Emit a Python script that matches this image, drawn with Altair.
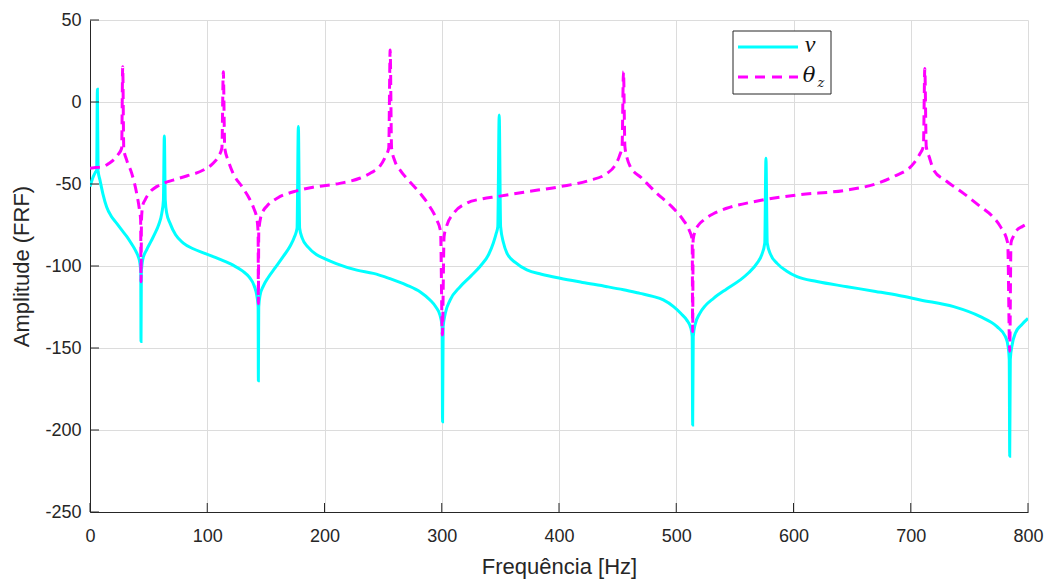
import altair as alt
import pandas as pd

# ---- data ----
v_freq = [0, 2.8, 4.5, 5.7, 6.3, 6.9, 8.5, 11, 14.2, 18, 22.8, 27, 31.3, 35, 38.4, 41, 42.5, 43.3, 43.5, 43.8, 45, 48.4, 52, 55.5, 58.5, 61.2, 62.6, 63.4, 64.2, 65.5, 68.3, 73, 79.6, 88, 96.7, 111, 122, 130, 136, 140, 142.5, 143.4, 143.6, 143.9, 145, 148, 152, 158, 165, 170.6, 174.5, 176.6, 177.7, 178.8, 181, 186, 193, 200, 210, 227.6, 241.7, 255, 270, 282, 290, 295, 298.5, 300.3, 300.7, 301.2, 303, 307, 315.7, 325, 333, 340, 344, 346.5, 347.8, 349, 350.2, 352.7, 355.5, 363, 372.6, 385, 401, 420, 441, 455, 469, 480, 489, 497.7, 504, 509, 512.5, 513.6, 514, 514.5, 516, 520, 525, 531.8, 543, 554.6, 562, 568.8, 573, 575.5, 576.5, 577.6, 580.5, 586, 594, 603, 620, 645.6, 670, 690, 708.2, 736.6, 759.4, 773.6, 780.7, 783, 784, 784.4, 784.9, 786.5, 789.2, 795, 800]
v_amp = [-51.6, -45.5, -43, -41.5, 7.7, -42, -47.6, -56, -64, -69.5, -74, -78, -82, -86, -90, -94, -98, -104, -146, -104, -96, -90, -85, -80, -75, -68, -60, -20.7, -60, -68, -74, -81, -86, -89.5, -92, -96, -99.5, -103, -107, -112, -119, -125, -170, -125, -118, -112, -107, -101, -94, -88, -82, -77, -15, -77, -83, -88.5, -93, -95.5, -98.5, -102.5, -104.5, -107.5, -111.6, -116, -120.7, -125, -130, -137, -195, -137, -129, -121, -112.6, -106, -100, -93, -86, -80, -76, -8, -76, -86, -92, -98, -102.4, -105, -107.5, -110, -112.6, -114.5, -116.7, -118.5, -120.7, -124.8, -129, -133, -138, -143, -197, -143, -136, -129, -124, -119.7, -114, -108.5, -104, -98.4, -93, -86, -34.3, -86, -93, -98.4, -103, -106.5, -109.5, -112.6, -115.5, -118, -120.7, -124.8, -130.9, -137, -143, -149, -157, -216, -157, -148, -141, -135.5, -132]

theta_freq = [0, 5, 11.4, 16, 19.9, 24, 27, 27.9, 28.8, 31.3, 35.6, 39.8, 42.2, 43.2, 43.5, 43.9, 45, 46.9, 51, 56.9, 63, 71, 83, 96.7, 104, 109.5, 112.5, 113.7, 114.9, 118, 122, 130, 136, 139.5, 142.5, 143.4, 143.6, 143.9, 145.4, 148, 150.8, 160, 173.5, 190, 213, 230, 240, 247, 251.5, 254.8, 256, 257.2, 260, 264.5, 272, 281.6, 290, 295.8, 299, 300.5, 302, 304, 310, 321, 335, 347, 370, 401, 425, 441, 447, 451.5, 453.8, 455, 456.2, 458, 460.8, 470, 483.5, 495, 506, 511, 513.6, 514, 514.4, 516, 519, 523.3, 532, 543, 566, 603, 645.6, 670, 685.4, 702.5, 707.5, 710.8, 712, 713.2, 716, 719.6, 730, 745, 759.4, 770, 776.5, 782.7, 784.4, 785.5, 787.5, 790.7, 795, 800]
theta_amp = [-40.4, -40, -39.4, -37.5, -35.4, -32, -28.2, 21.5, -28.5, -35.4, -43.5, -55.7, -65.9, -72, -109.6, -72, -63, -59.8, -55, -51.6, -49.5, -47.6, -45, -41.5, -38, -33.3, -28, 18.5, -28, -36, -43.5, -52, -59, -64.5, -72, -80, -123, -80, -71, -66, -63.5, -58.5, -54.7, -52, -49.6, -46.5, -43, -39.4, -34, -28, 31.7, -28, -36, -41.5, -48, -55.7, -64, -72, -79, -142, -82, -76, -68, -61.8, -59, -57.7, -55, -51.6, -48, -43.5, -39.5, -33, -27, 18.5, -27, -34, -39.4, -46, -55.7, -63, -72, -78, -84, -140, -84, -79, -75, -72, -68, -64.8, -60.8, -56.7, -53.7, -50, -45.5, -37.4, -32, -27, 20.5, -27, -34, -41.5, -48, -55.7, -63.8, -70, -76, -86, -152, -86, -82, -78, -76, -74]

x_ticks = [0, 100, 200, 300, 400, 500, 600, 700, 800]
y_ticks = [-250, -200, -150, -100, -50, 0, 50]

legend_labels = ["v", "θ", "z"]

W, H = 938, 492
INK = "#262626"
FONT = "Liberation Sans"
HYPHEN_EXPR = "replace(datum.label, '\u2212', '-')"

df_v = pd.DataFrame({"f": v_freq, "a": v_amp})
df_t = pd.DataFrame({"f": theta_freq, "a": theta_amp})
df_xt = pd.DataFrame({"f": x_ticks})
df_yt = pd.DataFrame({"a": y_ticks})

x_axis = alt.Axis(values=x_ticks, grid=True, gridColor="#dcdcdc", gridWidth=1,
                  domainColor=INK, domainWidth=1, ticks=False, tickSize=0,
                  labelFont=FONT, labelFontSize=18, labelColor=INK, labelPadding=15,
                  labelBaseline="top", labelFlush=False, labelExpr=HYPHEN_EXPR,
                  title="Frequência [Hz]", titleFont=FONT, titleFontSize=22,
                  titleFontWeight="normal", titleColor=INK,
                  titleX=469, titleY=61, titleBaseline="alphabetic", titleAlign="center")
y_axis = alt.Axis(values=y_ticks, grid=True, gridColor="#dcdcdc", gridWidth=1,
                  domainColor=INK, domainWidth=1, ticks=False, tickSize=0,
                  labelFont=FONT, labelFontSize=18, labelColor=INK, labelPadding=9,
                  labelFlush=False, labelExpr=HYPHEN_EXPR,
                  title="Amplitude (FRF)", titleFont=FONT, titleFontSize=22,
                  titleFontWeight="normal", titleColor=INK,
                  titleX=-62, titleY=246, titleAngle=-90, titleBaseline="alphabetic",
                  titleAlign="center")

x_enc = alt.X("f:Q", scale=alt.Scale(domain=[0, 800], nice=False, zero=False), axis=x_axis)
y_enc = alt.Y("a:Q", scale=alt.Scale(domain=[-250, 50], nice=False, zero=False), axis=y_axis)

line_v = alt.Chart(df_v).mark_line(color="#00FFFF", strokeWidth=3, interpolate="monotone",
                                   clip=True).encode(x=x_enc, y=y_enc)
line_t = alt.Chart(df_t).mark_line(color="#FF00FF", strokeWidth=3, strokeDash=[10, 6],
                                   interpolate="monotone", clip=True).encode(x=x_enc, y=y_enc)

xt = alt.Chart(df_xt).mark_rule(color=INK, strokeWidth=1).encode(
    x=x_enc, y=alt.value(H), y2=alt.value(H - 9))
yt = alt.Chart(df_yt).mark_rule(color=INK, strokeWidth=1).encode(
    y=y_enc, x=alt.value(0), x2=alt.value(9))

one = pd.DataFrame({"k": [0]})
leg_box = alt.Chart(one).mark_rect(fill="white", stroke=INK, strokeWidth=1).encode(
    x=alt.value(643), x2=alt.value(741), y=alt.value(11), y2=alt.value(74))
leg_l1 = alt.Chart(one).mark_rule(color="#00FFFF", strokeWidth=3).encode(
    x=alt.value(648), x2=alt.value(708), y=alt.value(27))
leg_l2 = alt.Chart(one).mark_rule(color="#FF00FF", strokeWidth=3, strokeDash=[10, 7]).encode(
    x=alt.value(648), x2=alt.value(708), y=alt.value(57))
leg_t1 = alt.Chart(one).mark_text(text=legend_labels[0], font="Liberation Serif", fontStyle="italic",
                                  fontSize=24, color="#111111", align="center",
                                  baseline="middle").encode(x=alt.value(720), y=alt.value(25))
leg_t2 = alt.Chart(one).mark_text(text=legend_labels[1], font="DejaVu Serif", fontStyle="italic",
                                  fontSize=21, color="#111111", align="center",
                                  baseline="middle").encode(x=alt.value(719), y=alt.value(56))
leg_t3 = alt.Chart(one).mark_text(text=legend_labels[2], font="DejaVu Serif", fontStyle="italic",
                                  fontSize=13, color="#111111", align="center",
                                  baseline="middle").encode(x=alt.value(731), y=alt.value(63))

chart = alt.layer(line_v, line_t, xt, yt, leg_box, leg_l1, leg_l2, leg_t1, leg_t2, leg_t3).properties(
    width=W, height=H,
    autosize=alt.AutoSizeParams(type="none"),
    padding={"left": 90, "top": 20, "right": 20, "bottom": 67},
    background="white",
).configure_view(stroke=None)

chart.save("out.html", embed_options={"renderer": "svg", "actions": False})
